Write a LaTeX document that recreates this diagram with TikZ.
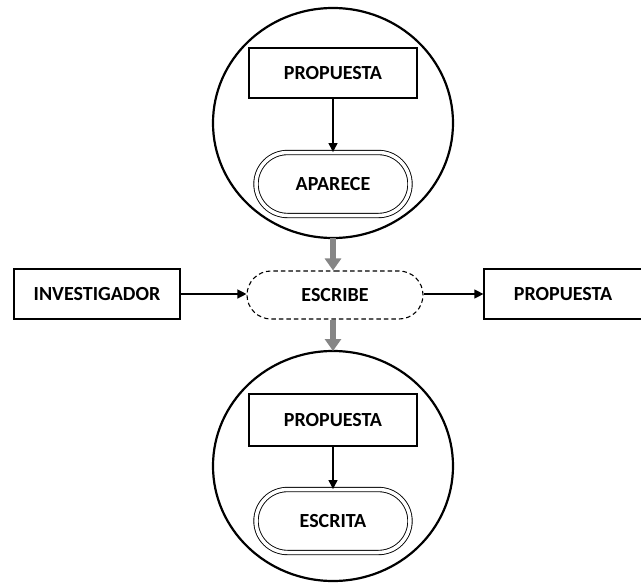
\documentclass[tikz,border=0pt]{standalone}
\usepackage{fontspec}
\setmainfont{Carlito}
\usetikzlibrary{arrows.meta,shapes.misc}
\begin{document}
\begin{tikzpicture}[x=1pt,y=-1pt,
  lbl/.style={font=\bfseries\fontsize{20}{22}\selectfont},
  box/.style={lbl,draw,line width=1.2pt,minimum width=168pt,minimum height=50pt,inner sep=0pt},
  pill/.style={lbl,draw,double,double distance=3.5pt,line width=0.9pt,rounded rectangle,minimum width=154pt,minimum height=63pt,inner sep=0pt},
  dpill/.style={lbl,draw,dashed,dash pattern=on 4.5pt off 3pt,line width=1.1pt,rounded rectangle,minimum width=176pt,minimum height=48pt,inner sep=0pt},
  ring/.style={draw,line width=2.2pt},
  link/.style={draw,line width=1.2pt,-{Triangle[length=9pt,width=9pt]}},
  flow/.style={draw,line width=6pt,color=gray!95,-{Triangle[length=12pt,width=16pt]}}]
\useasboundingbox (0,0) rectangle (641,584);
% upper group
\draw[ring] (333,123) ellipse [x radius=120, y radius=115];
\coordinate (c1s) at (333,238);
\node[box] (p1) at (333,73) {PROPUESTA};
\node[pill] (a1) at (333,184) {APARECE};
\draw[link] (p1) -- (a1);
% middle row
\node[dpill] (e) at (335,295) {ESCRIBE};
\node[box,minimum width=166pt] (inv) at (97,294) {INVESTIGADOR};
\node[box,minimum width=158pt] (p2) at (563,294) {PROPUESTA};
\draw[link] (inv) -- (inv -| e.west);
\draw[link] (e.east |- p2) -- (p2);
% lower group
\draw[ring] (333,466) ellipse [x radius=120, y radius=115];
\coordinate (c2n) at (333,351);
\node[box,minimum height=52pt] (p3) at (333,420) {PROPUESTA};
\node[pill] (a2) at (333,521) {ESCRITA};
\draw[link] (p3) -- (a2);
% links between groups
\draw[flow] (c1s) -- (c1s |- e.north);
\draw[flow] (c2n |- e.south) -- (c2n);
\end{tikzpicture}
\end{document}
